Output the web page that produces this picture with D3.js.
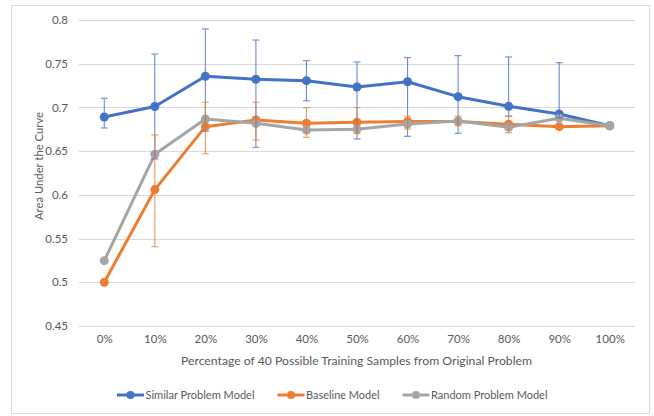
<!DOCTYPE html>
<html>
<head>
<meta charset="utf-8">
<script src="https://cdn.jsdelivr.net/npm/d3@7"></script>
<style>
  html, body { margin: 0; padding: 0; background: #ffffff; }
  svg text { font-family: Lato, "Open Sans", sans-serif; fill: #595959; }
</style>
</head>
<body>
<svg id="chart" width="654" height="416"></svg>
<script>
// ---- data ----
const categories = ["0%", "10%", "20%", "30%", "40%", "50%", "60%", "70%", "80%", "90%", "100%"];
const seriesNames = ["Similar Problem Model", "Baseline Model", "Random Problem Model"];
const similarValues = [0.689, 0.701, 0.7356, 0.7322, 0.7306, 0.7234, 0.7294, 0.7123, 0.7013, 0.6925, 0.679];
const similarLow    = [0.6765, 0.641, 0.6727, 0.6544, 0.7076, 0.6639, 0.667, 0.6704, 0.690, 0.688, null];
const similarHigh   = [0.7105, 0.761, 0.7897, 0.7771, 0.7535, 0.752, 0.7569, 0.7592, 0.7577, 0.7512, null];
const baselineValues = [0.500, 0.606, 0.678, 0.6856, 0.682, 0.683, 0.684, 0.684, 0.6807, 0.678, 0.679];
const baselineLow    = [null, 0.5407, 0.647, 0.6627, 0.6658, 0.670, 0.6753, 0.679, 0.671, null, null];
const baselineHigh   = [null, 0.6685, 0.7059, 0.706, 0.6997, 0.6997, 0.690, 0.690, 0.690, null, null];
const randomValues = [0.5247, 0.6464, 0.6868, 0.6818, 0.6742, 0.675, 0.681, 0.6845, 0.6773, 0.6876, 0.679];
const yTicks = [0.45, 0.5, 0.55, 0.6, 0.65, 0.7, 0.75, 0.8];
const colors = ["#4472C4", "#ED7D31", "#A5A5A5"];

const series = [
  { name: seriesNames[0], values: similarValues, low: similarLow, high: similarHigh, color: colors[0] },
  { name: seriesNames[1], values: baselineValues, low: baselineLow, high: baselineHigh, color: colors[1] },
  { name: seriesNames[2], values: randomValues, low: null, high: null, color: colors[2] }
];

const svg = d3.select("#chart");

// chart border
svg.append("rect")
  .attr("x", 11.5).attr("y", 5.5).attr("width", 638).attr("height", 408)
  .attr("fill", "#fff").attr("stroke", "#d9d9d9").attr("stroke-width", 1);

const plotLeft = 79, plotRight = 635, plotTop = 20, plotBottom = 326;
const step = (plotRight - plotLeft) / categories.length;
const x = d3.scalePoint().domain(categories)
  .range([plotLeft + step / 2, plotRight - step / 2]);
const y = d3.scaleLinear().domain([0.45, 0.8]).range([plotBottom, plotTop]);

// gridlines
svg.append("g").selectAll("line").data(yTicks).join("line")
  .attr("x1", plotLeft).attr("x2", plotRight)
  .attr("y1", d => Math.round(y(d)) + 0.5).attr("y2", d => Math.round(y(d)) + 0.5)
  .attr("stroke", "#d9d9d9").attr("stroke-width", 1);

// y axis
const yAxis = d3.axisLeft(y).tickValues(yTicks).tickSize(0).tickPadding(0)
  .tickFormat(d3.format(""));
const gy = svg.append("g").attr("transform", `translate(68,0)`).call(yAxis);
gy.select(".domain").remove();
gy.selectAll("text").attr("font-size", 11.5).attr("fill", "#595959")
  .style("font-family", "Lato, sans-serif");

// x axis
const xAxis = d3.axisBottom(x).tickSize(0).tickPadding(0);
const gx = svg.append("g").attr("transform", `translate(0,335)`).call(xAxis);
gx.select(".domain").remove();
gx.selectAll("text").attr("font-size", 11.5).attr("fill", "#595959")
  .style("font-family", "Lato, sans-serif");

// axis titles
svg.append("text")
  .attr("x", 356.5).attr("y", 365)
  .attr("text-anchor", "middle").attr("font-size", 12)
  .attr("textLength", 351).attr("lengthAdjust", "spacingAndGlyphs")
  .text("Percentage of 40 Possible Training Samples from Original Problem");
svg.append("text")
  .attr("transform", "translate(43,166) rotate(-90)")
  .attr("text-anchor", "middle").attr("font-size", 12)
  .attr("textLength", 108).attr("lengthAdjust", "spacingAndGlyphs")
  .text("Area Under the Curve");

// series
const line = d3.line().x((d, i) => x(categories[i])).y(d => y(d));

series.forEach(s => {
  const g = svg.append("g");
  g.append("path").datum(s.values)
    .attr("d", line).attr("fill", "none")
    .attr("stroke", s.color).attr("stroke-width", 3)
    .attr("stroke-linejoin", "round").attr("stroke-linecap", "round");
  g.selectAll("circle").data(s.values).join("circle")
    .attr("cx", (d, i) => x(categories[i])).attr("cy", d => y(d))
    .attr("r", 4.5).attr("fill", s.color);
});

// error bars (drawn on top)
series.forEach(s => {
  if (!s.low) return;
  const idx = categories.map((c, i) => i).filter(i => s.low[i] != null);
  const g = svg.append("g").attr("stroke", s.color).attr("stroke-width", 1.1).attr("opacity", 0.8);
  g.selectAll("line.v").data(idx).join("line").attr("class", "v")
    .attr("x1", i => x(categories[i])).attr("x2", i => x(categories[i]))
    .attr("y1", i => y(s.low[i])).attr("y2", i => y(s.high[i]));
  g.selectAll("line.t").data(idx).join("line").attr("class", "t")
    .attr("x1", i => x(categories[i]) - 3.5).attr("x2", i => x(categories[i]) + 3.5)
    .attr("y1", i => y(s.high[i])).attr("y2", i => y(s.high[i]));
  g.selectAll("line.b").data(idx).join("line").attr("class", "b")
    .attr("x1", i => x(categories[i]) - 3.5).attr("x2", i => x(categories[i]) + 3.5)
    .attr("y1", i => y(s.low[i])).attr("y2", i => y(s.low[i]));
});

// legend
const legendItems = [
  { name: seriesNames[0], color: colors[0], x: 117, w: 109 },
  { name: seriesNames[1], color: colors[1], x: 277.5, w: 73.5 },
  { name: seriesNames[2], color: colors[2], x: 402.5, w: 116.5 }
];
const lg = svg.append("g").attr("transform", "translate(0,395)");
legendItems.forEach(it => {
  lg.append("line").attr("x1", it.x).attr("x2", it.x + 27).attr("y1", 0).attr("y2", 0)
    .attr("stroke", it.color).attr("stroke-width", 3);
  lg.append("circle").attr("cx", it.x + 13.5).attr("cy", 0).attr("r", 4).attr("fill", it.color);
  lg.append("text").attr("x", it.x + 28.5).attr("y", 0).attr("dy", "0.35em")
    .attr("font-size", 11.5)
    .attr("textLength", it.w).attr("lengthAdjust", "spacingAndGlyphs")
    .text(it.name);
});
</script>
</body>
</html>
